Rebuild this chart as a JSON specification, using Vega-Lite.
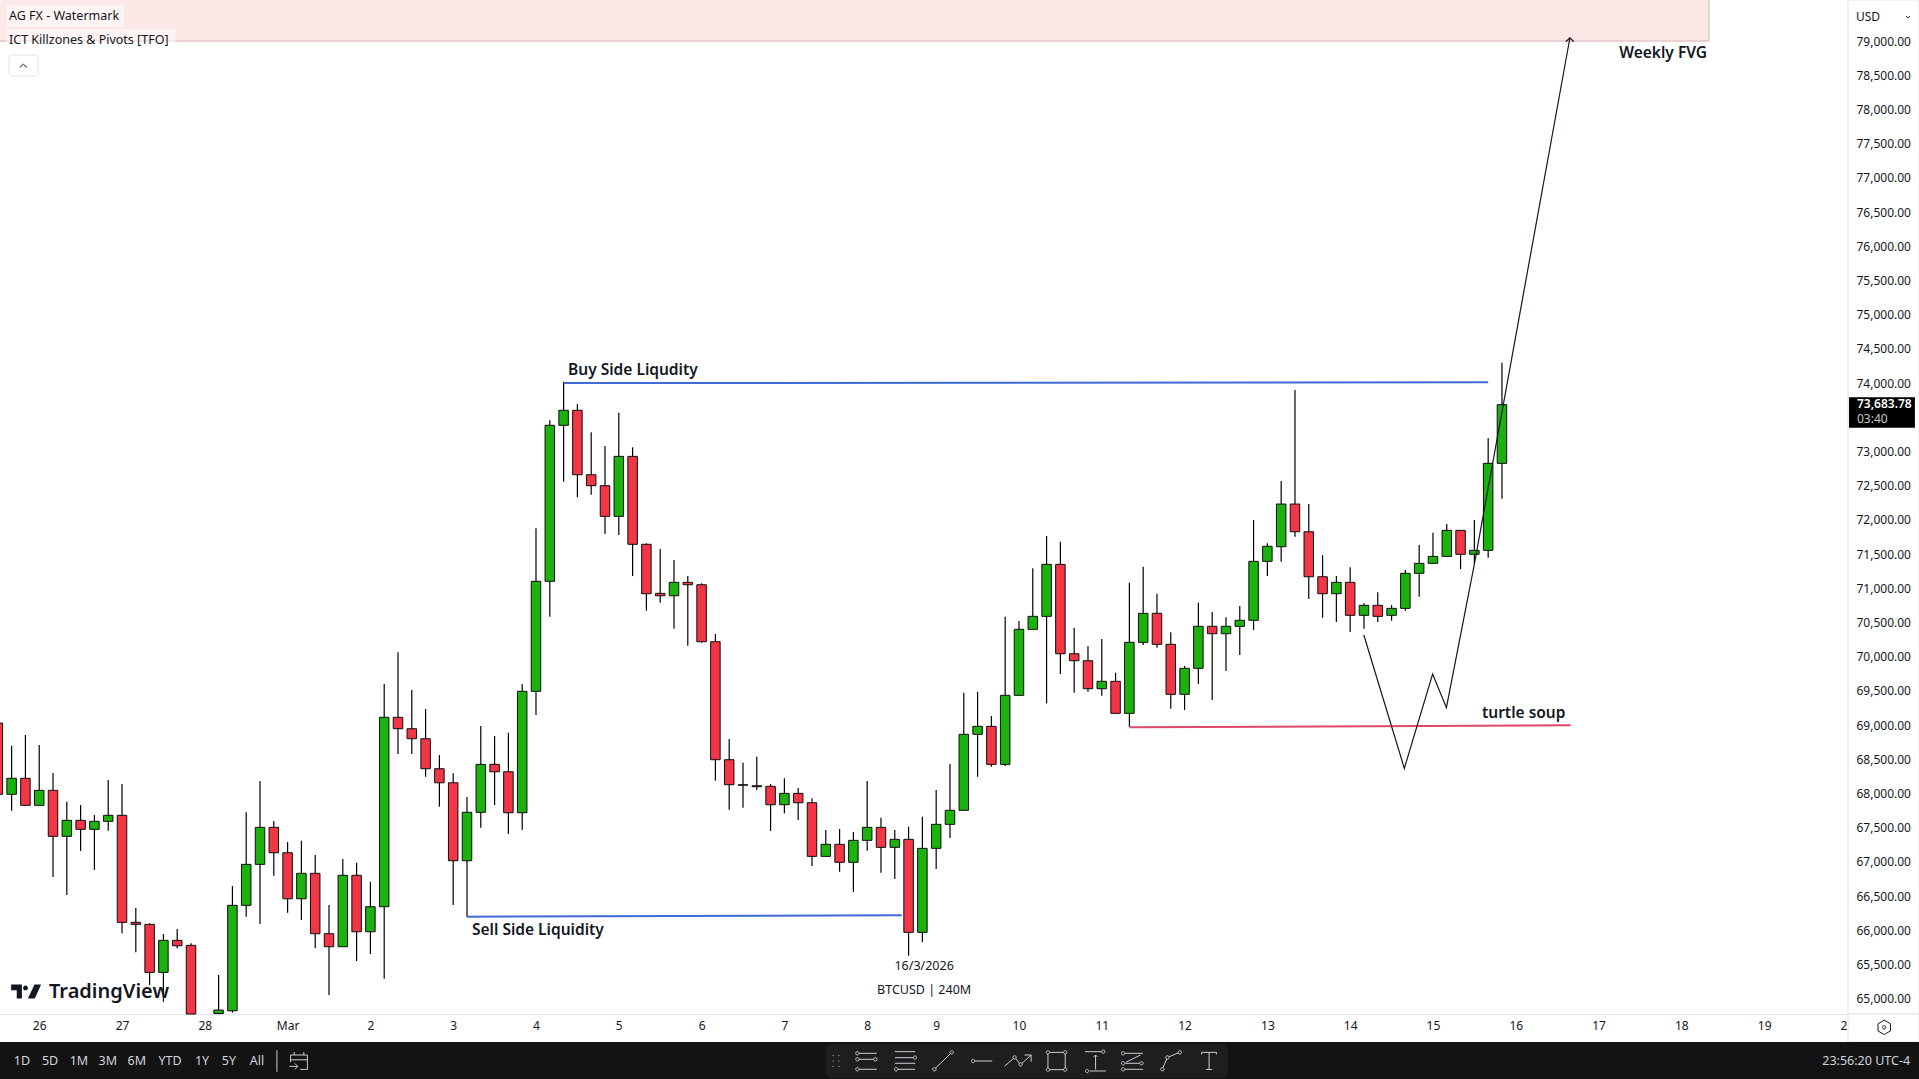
{"$schema":"https://vega.github.io/schema/vega-lite/v6.json","width":1919,"height":1079,"autosize":{"type":"none"},"padding":0,"background":"#ffffff","view":{"stroke":null},
"datasets":{"candles":[
{"t":"2026-02-25T20:00:00Z","o":69029,"h":69100,"l":67800,"c":67987},
{"t":"2026-02-26T00:00:00Z","o":67987,"h":68697,"l":67747,"c":68221},
{"t":"2026-02-26T04:00:00Z","o":68221,"h":68854,"l":67826,"c":67826},
{"t":"2026-02-26T08:00:00Z","o":67826,"h":68708,"l":67826,"c":68045},
{"t":"2026-02-26T12:00:00Z","o":68045,"h":68298,"l":66778,"c":67373},
{"t":"2026-02-26T16:00:00Z","o":67373,"h":67879,"l":66515,"c":67607},
{"t":"2026-02-26T20:00:00Z","o":67607,"h":67830,"l":67158,"c":67475},
{"t":"2026-02-27T00:00:00Z","o":67475,"h":67684,"l":66880,"c":67592},
{"t":"2026-02-27T04:00:00Z","o":67592,"h":68196,"l":67455,"c":67680},
{"t":"2026-02-27T08:00:00Z","o":67680,"h":68137,"l":65955,"c":66115},
{"t":"2026-02-27T12:00:00Z","o":66115,"h":66325,"l":65677,"c":66086},
{"t":"2026-02-27T16:00:00Z","o":66086,"h":66101,"l":65199,"c":65384},
{"t":"2026-02-27T20:00:00Z","o":65384,"h":65944,"l":64955,"c":65852},
{"t":"2026-02-28T00:00:00Z","o":65852,"h":66018,"l":65735,"c":65773},
{"t":"2026-02-28T04:00:00Z","o":65779,"h":65808,"l":64775,"c":64775},
{"t":"2026-02-28T12:00:00Z","o":64782,"h":65345,"l":64775,"c":64833},
{"t":"2026-02-28T16:00:00Z","o":64823,"h":66646,"l":64794,"c":66364},
{"t":"2026-02-28T20:00:00Z","o":66364,"h":67724,"l":66197,"c":66963},
{"t":"2026-03-01T00:00:00Z","o":66963,"h":68181,"l":66091,"c":67504},
{"t":"2026-03-01T04:00:00Z","o":67504,"h":67596,"l":66797,"c":67133},
{"t":"2026-03-01T08:00:00Z","o":67133,"h":67289,"l":66256,"c":66460},
{"t":"2026-03-01T12:00:00Z","o":66460,"h":67308,"l":66149,"c":66832},
{"t":"2026-03-01T16:00:00Z","o":66832,"h":67099,"l":65735,"c":65949},
{"t":"2026-03-01T20:00:00Z","o":65949,"h":66368,"l":65053,"c":65759},
{"t":"2026-03-02T00:00:00Z","o":65759,"h":67041,"l":65759,"c":66803},
{"t":"2026-03-02T04:00:00Z","o":66803,"h":66987,"l":65550,"c":65978},
{"t":"2026-03-02T08:00:00Z","o":65978,"h":66709,"l":65652,"c":66344},
{"t":"2026-03-02T12:00:00Z","o":66344,"h":69599,"l":65291,"c":69113},
{"t":"2026-03-02T16:00:00Z","o":69113,"h":70063,"l":68576,"c":68946},
{"t":"2026-03-02T20:00:00Z","o":68946,"h":69512,"l":68576,"c":68800},
{"t":"2026-03-03T00:00:00Z","o":68800,"h":69234,"l":68244,"c":68361},
{"t":"2026-03-03T04:00:00Z","o":68361,"h":68561,"l":67806,"c":68156},
{"t":"2026-03-03T08:00:00Z","o":68156,"h":68294,"l":66368,"c":67016},
{"t":"2026-03-03T12:00:00Z","o":67016,"h":67947,"l":66197,"c":67724},
{"t":"2026-03-03T16:00:00Z","o":67724,"h":68985,"l":67499,"c":68425},
{"t":"2026-03-03T20:00:00Z","o":68425,"h":68839,"l":67830,"c":68317},
{"t":"2026-03-04T00:00:00Z","o":68317,"h":68887,"l":67406,"c":67718},
{"t":"2026-03-04T04:00:00Z","o":67718,"h":69599,"l":67465,"c":69493},
{"t":"2026-03-04T08:00:00Z","o":69493,"h":71876,"l":69146,"c":71101},
{"t":"2026-03-04T12:00:00Z","o":71101,"h":73455,"l":70583,"c":73382},
{"t":"2026-03-04T16:00:00Z","o":73382,"h":74019,"l":72557,"c":73601},
{"t":"2026-03-04T20:00:00Z","o":73601,"h":73693,"l":72329,"c":72659},
{"t":"2026-03-05T00:00:00Z","o":72659,"h":73279,"l":72367,"c":72499},
{"t":"2026-03-05T04:00:00Z","o":72499,"h":73079,"l":71792,"c":72051},
{"t":"2026-03-05T08:00:00Z","o":72051,"h":73566,"l":71778,"c":72928},
{"t":"2026-03-05T12:00:00Z","o":72928,"h":73060,"l":71178,"c":71642},
{"t":"2026-03-05T16:00:00Z","o":71642,"h":71656,"l":70671,"c":70920},
{"t":"2026-03-05T20:00:00Z","o":70925,"h":71573,"l":70788,"c":70890},
{"t":"2026-03-06T00:00:00Z","o":70890,"h":71412,"l":70408,"c":71086},
{"t":"2026-03-06T04:00:00Z","o":71086,"h":71178,"l":70159,"c":71051},
{"t":"2026-03-06T08:00:00Z","o":71051,"h":71072,"l":70203,"c":70218},
{"t":"2026-03-06T12:00:00Z","o":70218,"h":70330,"l":68186,"c":68493},
{"t":"2026-03-06T16:00:00Z","o":68493,"h":68795,"l":67762,"c":68127},
{"t":"2026-03-06T20:00:00Z","o":68127,"h":68449,"l":67791,"c":68120},
{"t":"2026-03-07T00:00:00Z","o":68113,"h":68537,"l":68050,"c":68098},
{"t":"2026-03-07T04:00:00Z","o":68104,"h":68137,"l":67450,"c":67835},
{"t":"2026-03-07T08:00:00Z","o":67835,"h":68221,"l":67709,"c":68001},
{"t":"2026-03-07T12:00:00Z","o":68001,"h":68079,"l":67611,"c":67864},
{"t":"2026-03-07T16:00:00Z","o":67864,"h":67928,"l":66939,"c":67080},
{"t":"2026-03-07T20:00:00Z","o":67080,"h":67465,"l":67080,"c":67256},
{"t":"2026-03-08T00:00:00Z","o":67256,"h":67480,"l":66855,"c":66993},
{"t":"2026-03-08T04:00:00Z","o":66993,"h":67436,"l":66558,"c":67314},
{"t":"2026-03-08T08:00:00Z","o":67314,"h":68181,"l":67162,"c":67504},
{"t":"2026-03-08T12:00:00Z","o":67504,"h":67645,"l":66841,"c":67212},
{"t":"2026-03-08T16:00:00Z","o":67212,"h":67465,"l":66749,"c":67329},
{"t":"2026-03-08T20:00:00Z","o":67329,"h":67513,"l":65627,"c":65969},
{"t":"2026-03-09T00:00:00Z","o":65969,"h":67659,"l":65823,"c":67197},
{"t":"2026-03-09T04:00:00Z","o":67197,"h":68050,"l":66895,"c":67548},
{"t":"2026-03-09T08:00:00Z","o":67548,"h":68430,"l":67348,"c":67753},
{"t":"2026-03-09T12:00:00Z","o":67753,"h":69472,"l":67753,"c":68864},
{"t":"2026-03-09T16:00:00Z","o":68864,"h":69487,"l":68244,"c":68981},
{"t":"2026-03-09T20:00:00Z","o":68981,"h":69132,"l":68390,"c":68425},
{"t":"2026-03-10T00:00:00Z","o":68425,"h":70583,"l":68401,"c":69434},
{"t":"2026-03-10T04:00:00Z","o":69434,"h":70520,"l":69434,"c":70399},
{"t":"2026-03-10T08:00:00Z","o":70399,"h":71291,"l":70399,"c":70589},
{"t":"2026-03-10T12:00:00Z","o":70589,"h":71763,"l":69317,"c":71349},
{"t":"2026-03-10T16:00:00Z","o":71349,"h":71680,"l":69746,"c":70042},
{"t":"2026-03-10T20:00:00Z","o":70042,"h":70423,"l":69472,"c":69940},
{"t":"2026-03-11T00:00:00Z","o":69940,"h":70155,"l":69487,"c":69531},
{"t":"2026-03-11T04:00:00Z","o":69531,"h":70257,"l":69428,"c":69639},
{"t":"2026-03-11T08:00:00Z","o":69639,"h":69765,"l":69171,"c":69171},
{"t":"2026-03-11T12:00:00Z","o":69171,"h":71080,"l":68975,"c":70209},
{"t":"2026-03-11T16:00:00Z","o":70209,"h":71314,"l":70170,"c":70633},
{"t":"2026-03-11T20:00:00Z","o":70633,"h":70920,"l":70130,"c":70180},
{"t":"2026-03-12T00:00:00Z","o":70180,"h":70355,"l":69238,"c":69449},
{"t":"2026-03-12T04:00:00Z","o":69449,"h":69863,"l":69219,"c":69829},
{"t":"2026-03-12T08:00:00Z","o":69829,"h":70788,"l":69599,"c":70443},
{"t":"2026-03-12T12:00:00Z","o":70443,"h":70652,"l":69366,"c":70335},
{"t":"2026-03-12T16:00:00Z","o":70335,"h":70575,"l":69789,"c":70443},
{"t":"2026-03-12T20:00:00Z","o":70443,"h":70740,"l":70023,"c":70531},
{"t":"2026-03-13T00:00:00Z","o":70531,"h":71997,"l":70389,"c":71393},
{"t":"2026-03-13T04:00:00Z","o":71393,"h":71656,"l":71178,"c":71613},
{"t":"2026-03-13T08:00:00Z","o":71607,"h":72567,"l":71387,"c":72231},
{"t":"2026-03-13T12:00:00Z","o":72231,"h":73898,"l":71753,"c":71826},
{"t":"2026-03-13T16:00:00Z","o":71826,"h":72231,"l":70842,"c":71168},
{"t":"2026-03-13T20:00:00Z","o":71168,"h":71485,"l":70569,"c":70920},
{"t":"2026-03-14T00:00:00Z","o":70920,"h":71178,"l":70506,"c":71086},
{"t":"2026-03-14T04:00:00Z","o":71086,"h":71306,"l":70360,"c":70604},
{"t":"2026-03-14T08:00:00Z","o":70604,"h":70779,"l":70408,"c":70750},
{"t":"2026-03-14T12:00:00Z","o":70750,"h":70940,"l":70506,"c":70589},
{"t":"2026-03-14T16:00:00Z","o":70604,"h":70754,"l":70525,"c":70706},
{"t":"2026-03-14T20:00:00Z","o":70706,"h":71266,"l":70671,"c":71218},
{"t":"2026-03-15T00:00:00Z","o":71218,"h":71632,"l":70876,"c":71364},
{"t":"2026-03-15T04:00:00Z","o":71364,"h":71811,"l":71364,"c":71466},
{"t":"2026-03-15T08:00:00Z","o":71466,"h":71939,"l":71466,"c":71846},
{"t":"2026-03-15T12:00:00Z","o":71846,"h":71846,"l":71281,"c":71496},
{"t":"2026-03-15T16:00:00Z","o":71496,"h":71997,"l":71354,"c":71554},
{"t":"2026-03-15T20:00:00Z","o":71554,"h":73192,"l":71446,"c":72826},
{"t":"2026-03-16T00:00:00Z","o":72826,"h":74297,"l":72309,"c":73683.78}
],
"icons":[
{"t":"2026-03-07T22:58:00Z","p":64088,"icon":"grip"},
{"t":"2026-03-08T07:36:00Z","p":64088,"icon":"fib"},
{"t":"2026-03-08T19:00:00Z","p":64088,"icon":"lines"},
{"t":"2026-03-09T06:06:00Z","p":64088,"icon":"trend"},
{"t":"2026-03-09T17:18:00Z","p":64088,"icon":"hline"},
{"t":"2026-03-10T03:42:00Z","p":64088,"icon":"poly"},
{"t":"2026-03-10T14:54:00Z","p":64088,"icon":"rect"},
{"t":"2026-03-11T02:12:00Z","p":64088,"icon":"meas"},
{"t":"2026-03-11T12:48:00Z","p":64088,"icon":"fib2"},
{"t":"2026-03-12T00:00:00Z","p":64088,"icon":"curve"},
{"t":"2026-03-12T11:06:00Z","p":64088,"icon":"tool"},
{"t":"2026-03-01T04:54:00Z","p":64088,"icon":"sep"},
{"t":"2026-03-01T11:18:00Z","p":64088,"icon":"cal"},
{"t":"2026-03-20T14:48:00Z","p":64580,"icon":"gear"},
{"t":"2026-02-26T03:24:00Z","p":78635,"icon":"chev"},
{"t":"2026-03-20T21:42:00Z","p":79351,"icon":"caret"}
]},
"encoding":{
"x":{"field":"t","type":"temporal","scale":{"type":"utc","padding":0,"domain":[{"year":2026,"month":2,"date":25,"hours":20,"minutes":38,"utc":true},{"year":2026,"month":3,"date":21,"hours":0,"minutes":53,"utc":true}],"nice":false},
"axis":{"title":null,"orient":"bottom","offset":-65,"zindex":0,"grid":false,"ticks":false,"domain":true,"domainColor":"#e0e3eb","domainWidth":1,"labelFont":"Noto Sans","labelFontSize":12,"labelColor":"#131722","labelPadding":6,"labelBaseline":"top","labelAlign":"center","labelAngle":0,"labelOverlap":false,"labelBound":false,"labelFlush":false,
"values":[{"year":2026,"month":2,"date":26,"hours":8,"utc":true},{"year":2026,"month":2,"date":27,"hours":8,"utc":true},{"year":2026,"month":2,"date":28,"hours":8,"utc":true},{"year":2026,"month":3,"date":1,"hours":8,"utc":true},{"year":2026,"month":3,"date":2,"hours":8,"utc":true},{"year":2026,"month":3,"date":3,"hours":8,"utc":true},{"year":2026,"month":3,"date":4,"hours":8,"utc":true},{"year":2026,"month":3,"date":5,"hours":8,"utc":true},{"year":2026,"month":3,"date":6,"hours":8,"utc":true},{"year":2026,"month":3,"date":7,"hours":8,"utc":true},{"year":2026,"month":3,"date":8,"hours":8,"utc":true},{"year":2026,"month":3,"date":9,"hours":4,"utc":true},{"year":2026,"month":3,"date":10,"hours":4,"utc":true},{"year":2026,"month":3,"date":11,"hours":4,"utc":true},{"year":2026,"month":3,"date":12,"hours":4,"utc":true},{"year":2026,"month":3,"date":13,"hours":4,"utc":true},{"year":2026,"month":3,"date":14,"hours":4,"utc":true},{"year":2026,"month":3,"date":15,"hours":4,"utc":true},{"year":2026,"month":3,"date":16,"hours":4,"utc":true},{"year":2026,"month":3,"date":17,"hours":4,"utc":true},{"year":2026,"month":3,"date":18,"hours":4,"utc":true},{"year":2026,"month":3,"date":19,"hours":4,"utc":true},{"year":2026,"month":3,"date":20,"hours":4,"utc":true}],
"labelExpr":"utcdate(datum.value-14400000)==1?'Mar':''+utcdate(datum.value-14400000)"}},
"y":{"field":"p","type":"quantitative","scale":{"domain":[63825,79600],"nice":false,"zero":false},
"axis":{"title":null,"orient":"right","offset":-71,"zindex":1,"grid":false,"ticks":false,"domain":false,"labelFont":"Noto Sans","labelFontSize":12,"labelColor":"#131722","labelPadding":8,"labelAlign":"left","labelBaseline":"middle","labelOverlap":false,"labelBound":false,"labelFlush":false,"format":",.2f",
"values":[65000,65500,66000,66500,67000,67500,68000,68500,69000,69500,70000,70500,71000,71500,72000,72500,73000,74000,74500,75000,75500,76000,76500,77000,77500,78000,78500,79000]}}
},
"layer":[
{"data":{"values":[{"t":"2026-02-25T20:00:00Z","t2":"2026-03-18T12:00:00Z","p":79000,"p2":79700}]},"mark":{"type":"rect","fill":"#fde8e8","stroke":"#d8b0b0","strokeWidth":1,"clip":false},"encoding":{"x2":{"field":"t2"},"y2":{"field":"p2"}}},
{"data":{"name":"candles"},"mark":{"type":"rule","color":"#000000","strokeWidth":1.2},"encoding":{"y":{"field":"h","type":"quantitative"},"y2":{"field":"l"}}},
{"data":{"name":"candles"},"mark":{"type":"bar","size":9.5,"stroke":"#0d0d0d","strokeWidth":1},"encoding":{"y":{"field":"o","type":"quantitative"},"y2":{"field":"c"},"color":{"condition":{"test":"datum.c>=datum.o","value":"#1cb20e"},"value":"#f23645"}}},
{"data":{"values":[
{"s":"buy","t":"2026-03-04T16:00:00Z","p":74000},{"s":"buy","t":"2026-03-15T20:00:00Z","p":74010},
{"s":"sell","t":"2026-03-03T12:00:00Z","p":66197},{"s":"sell","t":"2026-03-08T18:00:00Z","p":66218},
{"s":"turtle","t":"2026-03-11T12:00:00Z","p":68966},{"s":"turtle","t":"2026-03-16T19:54:00Z","p":68996}
]},"mark":{"type":"line","strokeWidth":2},"encoding":{"color":{"field":"s","type":"nominal","legend":null,"scale":{"domain":["buy","sell","turtle"],"range":["#3f6ad8","#3f6ad8","#e0486a"]}}}},
{"data":{"values":[
{"s":"path","t":"2026-03-14T07:57:00Z","p":70316},{"s":"path","t":"2026-03-14T19:42:00Z","p":68367},{"s":"path","t":"2026-03-15T03:54:00Z","p":69746},{"s":"path","t":"2026-03-15T07:54:00Z","p":69253},{"s":"path","t":"2026-03-15T16:00:00Z","p":71354},{"s":"path","t":"2026-03-16T19:42:00Z","p":79048},
{"s":"arrow","t":"2026-03-16T18:30:00Z","p":78990},{"s":"arrow","t":"2026-03-16T19:42:00Z","p":79048},{"s":"arrow","t":"2026-03-16T20:48:00Z","p":78990}
]},"mark":{"type":"line","strokeWidth":1.2,"color":"#131722"},"encoding":{"detail":{"field":"s"}}},
{"data":{"values":[
{"t":"2026-03-04T17:18:00Z","p":74196,"text":"Buy Side Liqudity"},{"t":"2026-03-03T13:27:00Z","p":66003,"text":"Sell Side Liquidity"},{"t":"2026-03-15T18:12:00Z","p":69180,"text":"turtle soup"},{"t":"2026-03-17T10:00:00Z","p":78820,"text":"Weekly FVG"}
]},"mark":{"type":"text","align":"left","baseline":"middle","font":"Noto Sans","fontSize":15.5,"fontWeight":600,"color":"#131722"},"encoding":{"text":{"field":"text"}}},
{"data":{"values":[{"t":"2026-03-09T00:30:00Z","p":65477,"text":"16/3/2026"},{"t":"2026-03-09T00:30:00Z","p":65126,"text":"BTCUSD | 240M"}]},"mark":{"type":"text","align":"center","baseline":"middle","font":"Noto Sans","fontSize":12.5,"color":"#131722"},"encoding":{"text":{"field":"text"}}},
{"data":{"values":[{"t":"2026-02-25T22:30:00Z","t2":"2026-02-27T08:36:00Z","p":79526,"p2":79205},{"t":"2026-02-25T22:30:00Z","t2":"2026-02-27T23:24:00Z","p":79176,"p2":78868}]},"mark":{"type":"rect","fill":"#ffffff","opacity":0.5},"encoding":{"x2":{"field":"t2"},"y2":{"field":"p2"}}},
{"data":{"values":[{"t":"2026-02-25T23:15:00Z","p":79361,"text":"AG FX - Watermark"},{"t":"2026-02-25T23:15:00Z","p":79015,"text":"ICT Killzones & Pivots [TFO]"}]},"mark":{"type":"text","align":"left","baseline":"middle","font":"Noto Sans","fontSize":12.5,"color":"#131722"},"encoding":{"text":{"field":"text"}}},
{"data":{"values":[{"t":"2026-02-25T23:15:00Z","t2":"2026-02-26T07:39:00Z","p":78795,"p2":78488},{"t":"2026-03-20T05:48:00Z","t2":"2026-03-20T23:42:00Z","p":79526,"p2":79176}]},"mark":{"type":"rect","fill":"#ffffff","stroke":"#e0e3eb","strokeWidth":1,"cornerRadius":3},"encoding":{"x2":{"field":"t2"},"y2":{"field":"p2"}}},
{"data":{"values":[{"t":"2026-02-26T10:50:00Z","p":65101,"text":"TradingView"}]},"mark":{"type":"text","align":"left","baseline":"middle","font":"Noto Sans","fontSize":20,"fontWeight":600,"color":"#131722"},"encoding":{"text":{"field":"text"}}},
{"data":{"values":[{"t":"2026-02-26T04:12:00Z","p":65104}]},"mark":{"type":"point","filled":true,"size":576,"opacity":1,"color":"#131722","shape":"M-1.25,-.58L-.35,-.58L-.35,.58L-.78,.58L-.78,-.1L-1.25,-.1ZM-.25,-.3a.2,.2 0 1,0 .4,0a.2,.2 0 1,0 -.4,0ZM.7,-.58L1.25,-.58L.72,.58L.15,.58Z"}},
{"data":{"values":[{"t":"2026-03-20T04:18:00Z","t2":"2026-03-21T00:53:00Z","p":79600,"p2":64775},{"t":"2026-03-20T04:18:00Z","t2":"2026-03-21T00:53:00Z","p":64775,"p2":64365}]},"mark":{"type":"rect","fill":"#ffffff","stroke":"#e0e3eb","strokeWidth":1},"encoding":{"x2":{"field":"t2"},"y2":{"field":"p2"}}},
{"data":{"values":[{"t":"2026-03-20T04:36:00Z","t2":"2026-03-20T23:42:00Z","p":73791,"p2":73346}]},"mark":{"type":"rect","fill":"#000000"},"encoding":{"x2":{"field":"t2"},"y2":{"field":"p2"}}},
{"data":{"values":[{"t":"2026-03-20T06:54:00Z","p":73689,"text":"73,683.78"}]},"mark":{"type":"text","align":"left","baseline":"middle","font":"Noto Sans","fontSize":12,"fontWeight":600,"color":"#ffffff"},"encoding":{"text":{"field":"text"}}},
{"data":{"values":[{"t":"2026-03-20T06:54:00Z","p":73474,"text":"03:40"}]},"mark":{"type":"text","align":"left","baseline":"middle","font":"Noto Sans","fontSize":12,"color":"#c8c8c8"},"encoding":{"text":{"field":"text"}}},
{"data":{"values":[{"t":"2026-03-20T06:36:00Z","p":79356,"text":"USD"}]},"mark":{"type":"text","align":"left","baseline":"middle","font":"Noto Sans","fontSize":12,"color":"#131722"},"encoding":{"text":{"field":"text"}}},
{"data":{"values":[{"t":"2026-02-25T20:00:00Z","t2":"2026-03-21T01:00:00Z","p":64365,"p2":63700}]},"mark":{"type":"rect","fill":"#131313"},"encoding":{"x2":{"field":"t2"},"y2":{"field":"p2"}}},
{"data":{"values":[{"t":"2026-03-07T20:00:00Z","t2":"2026-03-12T16:30:00Z","p":64336,"p2":63839}]},"mark":{"type":"rect","fill":"#1e1e1e","cornerRadius":6},"encoding":{"x2":{"field":"t2"},"y2":{"field":"p2"}}},
{"data":{"values":[
{"t":"2026-02-26T03:00:00Z","p":64088,"text":"1D"},{"t":"2026-02-26T11:08:00Z","p":64088,"text":"5D"},{"t":"2026-02-26T19:30:00Z","p":64088,"text":"1M"},{"t":"2026-02-27T03:54:00Z","p":64088,"text":"3M"},{"t":"2026-02-27T12:18:00Z","p":64088,"text":"6M"},{"t":"2026-02-27T21:54:00Z","p":64088,"text":"YTD"},{"t":"2026-02-28T07:12:00Z","p":64088,"text":"1Y"},{"t":"2026-02-28T15:00:00Z","p":64088,"text":"5Y"},{"t":"2026-02-28T23:06:00Z","p":64088,"text":"All"}
]},"mark":{"type":"text","align":"center","baseline":"middle","font":"Noto Sans","fontSize":12.5,"color":"#d1d4dc"},"encoding":{"text":{"field":"text"}}},
{"data":{"values":[{"t":"2026-03-20T22:18:00Z","p":64088,"text":"23:56:20 UTC-4"}]},"mark":{"type":"text","align":"right","baseline":"middle","font":"Noto Sans","fontSize":12.5,"color":"#d1d4dc"},"encoding":{"text":{"field":"text"}}},
{"data":{"name":"icons"},"mark":{"type":"point","filled":false,"size":576,"opacity":1,"strokeWidth":1},"encoding":{
"shape":{"field":"icon","type":"nominal","legend":null,"scale":{"domain":["grip","fib","lines","trend","hline","poly","rect","meas","fib2","curve","tool","sep","cal","gear","chev","caret"],"range":[
"M-.28,-.45L-.2,-.45M.2,-.45L.28,-.45M-.28,0L-.2,0M.2,0L.28,0M-.28,.45L-.2,.45M.2,.45L.28,.45",
"M-.55,-.64L.92,-.64M-.55,-.14L.65,-.14M-.55,.69L.92,.69M-.84,-.64a.14,.14 0 1,0 .28,0a.14,.14 0 1,0 -.28,0M-.84,-.14a.14,.14 0 1,0 .28,0a.14,.14 0 1,0 -.28,0M.66,-.14a.14,.14 0 1,0 .28,0a.14,.14 0 1,0 -.28,0M-.84,.69a.14,.14 0 1,0 .28,0a.14,.14 0 1,0 -.28,0",
"M-.86,-.78L.83,-.78M-.86,-.28L.68,-.28M-.86,.19L.83,.19M-.6,.69L.83,.69M.68,-.28a.14,.14 0 1,0 .28,0a.14,.14 0 1,0 -.28,0M-.89,.69a.14,.14 0 1,0 .28,0a.14,.14 0 1,0 -.28,0",
"M-.65,.59L.59,-.62M-.89,.69a.14,.14 0 1,0 .28,0a.14,.14 0 1,0 -.28,0M.55,-.72a.14,.14 0 1,0 .28,0a.14,.14 0 1,0 -.28,0",
"M-.6,0L.85,0M-.89,0a.14,.14 0 1,0 .28,0a.14,.14 0 1,0 -.28,0",
"M-1.1,.42L-.38,-.2M-.18,-.2L.12,.18M.32,.2L1.1,-.5M.55,-.5L1.1,-.5L1.1,.05M-.42,-.3a.14,.14 0 1,0 .28,0a.14,.14 0 1,0 -.28,0M.08,.28a.14,.14 0 1,0 .28,0a.14,.14 0 1,0 -.28,0",
"M-.58,-.72L.58,-.72M.72,-.58L.72,.58M.58,.72L-.58,.72M-.72,.58L-.72,-.58M-.86,-.72a.14,.14 0 1,0 .28,0a.14,.14 0 1,0 -.28,0M.58,-.72a.14,.14 0 1,0 .28,0a.14,.14 0 1,0 -.28,0M-.86,.72a.14,.14 0 1,0 .28,0a.14,.14 0 1,0 -.28,0M.58,.72a.14,.14 0 1,0 .28,0a.14,.14 0 1,0 -.28,0",
"M-.89,-.78L.5,-.78M-.47,.83L.86,.83M0,.7L0,-.5M-.15,-.35L0,-.5L.15,-.35M.5,-.78a.14,.14 0 1,0 .28,0a.14,.14 0 1,0 -.28,0M-.84,.83a.14,.14 0 1,0 .28,0a.14,.14 0 1,0 -.28,0",
"M-.6,-.64L.9,-.64M-.6,.19L.64,.19M-.6,.69L.9,.69M-.5,.1L.7,-.5M-.89,-.64a.14,.14 0 1,0 .28,0a.14,.14 0 1,0 -.28,0M-.89,.19a.14,.14 0 1,0 .28,0a.14,.14 0 1,0 -.28,0M.64,.19a.14,.14 0 1,0 .28,0a.14,.14 0 1,0 -.28,0M-.89,.69a.14,.14 0 1,0 .28,0a.14,.14 0 1,0 -.28,0",
"M-.65,.55L-.33,-.17M-.15,-.35L.62,-.68M-.84,.69a.14,.14 0 1,0 .28,0a.14,.14 0 1,0 -.28,0M-.42,-.3a.14,.14 0 1,0 .28,0a.14,.14 0 1,0 -.28,0M.61,-.72a.14,.14 0 1,0 .28,0a.14,.14 0 1,0 -.28,0",
"M-.62,-.55L-.62,-.72L.62,-.72L.62,-.55M0,-.72L0,.7M-.25,.7L.25,.7",
"M0,-.9L0,.9",
"M-.7,.1L-.7,-.5L.7,-.5L.7,.7L.1,.7M-.4,-.75L-.4,-.5M.4,-.75L.4,-.5M-.7,-.1L.7,-.1M-.8,.45L-.1,.45M-.35,.2L-.1,.45L-.35,.7",
"M0,-.6L.52,-.3L.52,.3L0,.6L-.52,.3L-.52,-.3ZM-.14,0a.14,.14 0 1,0 .28,0a.14,.14 0 1,0 -.28,0",
"M-.3,.12L0,-.15L.3,.12",
"M-.15,-.07L0,.07L.15,-.07"
]}},
"color":{"condition":{"test":"datum.icon=='gear'||datum.icon=='chev'||datum.icon=='caret'","value":"#131722"},"value":"#c9ccd4"}}}
]}
